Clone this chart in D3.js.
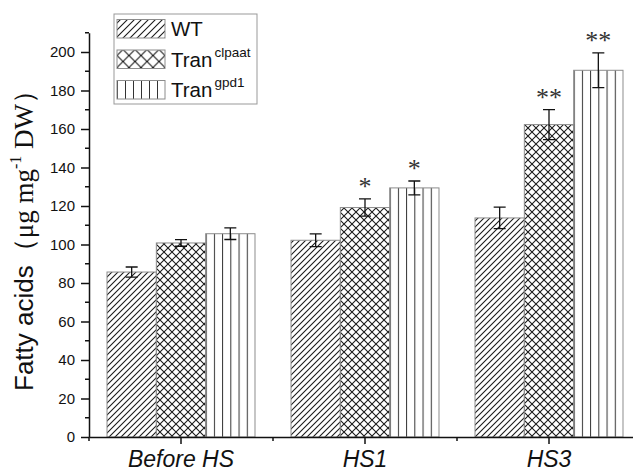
<!DOCTYPE html>
<html>
<head>
<meta charset="utf-8">
<script src="https://cdn.jsdelivr.net/npm/d3@7"></script>
<style>
  body { margin: 0; background: #fff; }
  svg { display: block; }
</style>
</head>
<body>
<div id="chart"></div>
<script>
// chart data
let categories = ["Before HS", "HS1", "HS3"];
let seriesKeys = ["WT", "clpaat", "gpd1"];
let wtMeans = [85.7, 102.2, 113.8];
let wtErr = [2.6, 3.3, 5.6];
let clpaatMeans = [100.8, 119.2, 162.3];
let clpaatErr = [1.7, 4.5, 7.8];
let gpd1Means = [105.6, 129.4, 190.5];
let gpd1Err = [3.0, 3.6, 9.0];
let clpaatStars = ["", "*", "**"];
let gpd1Stars = ["", "*", "**"];
let yTicks = [0, 20, 40, 60, 80, 100, 120, 140, 160, 180, 200];

// svg size
let svgWidth = 633;
let svgHeight = 471;

let svg = d3
  .select("#chart")
  .append("svg")
  .attr("width", svgWidth)
  .attr("height", svgHeight);

// hatch patterns
let defs = svg.append("defs");

defs.append("pattern")
  .attr("id", "diag")
  .attr("patternUnits", "userSpaceOnUse")
  .attr("width", 6)
  .attr("height", 6)
  .append("path")
  .attr("d", "M-1,1 l2,-2 M0,6 l6,-6 M5,7 l2,-2")
  .attr("stroke", "#1a1a1a")
  .attr("stroke-width", 1.1);

defs.append("pattern")
  .attr("id", "cross")
  .attr("patternUnits", "userSpaceOnUse")
  .attr("width", 8)
  .attr("height", 8)
  .append("path")
  .attr("d", "M0,0 L8,8 M8,0 L0,8")
  .attr("stroke", "#1a1a1a")
  .attr("stroke-width", 1.1);

defs.append("pattern")
  .attr("id", "crossBig")
  .attr("patternUnits", "userSpaceOnUse")
  .attr("width", 12)
  .attr("height", 12)
  .attr("x", 117)
  .attr("y", 49)
  .append("path")
  .attr("d", "M0,0 L12,12 M12,0 L0,12")
  .attr("stroke", "#1a1a1a")
  .attr("stroke-width", 1.1);

defs.append("pattern")
  .attr("id", "diagBig")
  .attr("patternUnits", "userSpaceOnUse")
  .attr("width", 7)
  .attr("height", 7)
  .append("path")
  .attr("d", "M-1,1 l2,-2 M0,7 l7,-7 M6,8 l2,-2")
  .attr("stroke", "#1a1a1a")
  .attr("stroke-width", 1.1);

// vertical lines: 6 cells per bar
defs.append("pattern")
  .attr("id", "vert")
  .attr("patternUnits", "objectBoundingBox")
  .attr("width", 1 / 6)
  .attr("height", 1)
  .append("path")
  .attr("d", "M0.5,0 V2000")
  .attr("stroke", "#333")
  .attr("stroke-width", 1);

let fills = { WT: "url(#diag)", clpaat: "url(#cross)", gpd1: "url(#vert)" };

// scales
let x0 = d3.scaleBand().domain(categories).range([89, 641]);
let x1 = d3
  .scaleBand()
  .domain(seriesKeys)
  .range([0, x0.bandwidth()])
  .paddingInner(0)
  .paddingOuter(0.365);
let y = d3.scaleLinear().domain([0, 210]).range([437, 437 - 210 * 1.925]);

// bar records built from the arrays
let barData = [];
categories.forEach(function(cat, i) {
  barData.push({ cat: cat, key: "WT", mean: wtMeans[i], err: wtErr[i], star: "" });
  barData.push({ cat: cat, key: "clpaat", mean: clpaatMeans[i], err: clpaatErr[i], star: clpaatStars[i] });
  barData.push({ cat: cat, key: "gpd1", mean: gpd1Means[i], err: gpd1Err[i], star: gpd1Stars[i] });
});

let barX = d => x0(d.cat) + x1(d.key);
let barMid = d => barX(d) + x1.bandwidth() / 2;

// bars
svg.append("g")
  .selectAll("rect")
  .data(barData)
  .enter()
  .append("rect")
  .attr("x", d => barX(d))
  .attr("y", d => y(d.mean))
  .attr("width", x1.bandwidth())
  .attr("height", d => y(0) - y(d.mean))
  .attr("fill", d => fills[d.key])
  .attr("stroke", "#8c8c8c")
  .attr("stroke-width", 1);

// error bars
let errGroup = svg.append("g")
  .attr("stroke", "#111")
  .attr("stroke-width", 1.3)
  .attr("fill", "none");

errGroup.selectAll("path")
  .data(barData)
  .enter()
  .append("path")
  .attr("d", function(d) {
    let cx = barMid(d);
    let top = y(d.mean + d.err);
    let bot = y(d.mean - d.err);
    return `M${cx - 6},${top} H${cx + 6} M${cx},${top} V${bot} M${cx - 6},${bot} H${cx + 6}`;
  });

// significance stars
svg.append("g")
  .selectAll("text")
  .data(barData.filter(d => d.star))
  .enter()
  .append("text")
  .attr("x", d => barMid(d))
  .attr("y", d => y(d.mean + d.err) - 16 + 12)
  .attr("text-anchor", "middle")
  .attr("font-family", "Liberation Serif, Times New Roman, serif")
  .attr("font-size", 26)
  .attr("fill", "#333")
  .text(d => d.star);

// y axis
let yAxis = d3.axisLeft(y)
  .tickValues(yTicks)
  .tickSize(8)
  .tickPadding(6)
  .tickSizeOuter(0);

let yAxisG = svg.append("g")
  .attr("transform", "translate(89,0)")
  .call(yAxis);

yAxisG.selectAll("text")
  .attr("font-family", "Arial, Liberation Sans, sans-serif")
  .attr("font-size", 15)
  .attr("fill", "#111");

// minor y ticks
svg.append("g")
  .selectAll("line")
  .data(d3.range(10, 220, 20))
  .enter()
  .append("line")
  .attr("x1", 85)
  .attr("x2", 89)
  .attr("y1", d => y(d))
  .attr("y2", d => y(d))
  .attr("stroke", "#111")
  .attr("stroke-width", 1.5);

// x axis
let xAxis = d3.axisBottom(x0).tickSize(7).tickSizeOuter(0).tickFormat("");

let xAxisG = svg.append("g")
  .attr("transform", `translate(0,${y(0)})`)
  .call(xAxis);

// minor x ticks at band edges
svg.append("g")
  .selectAll("line")
  .data(categories)
  .enter()
  .append("line")
  .attr("x1", d => x0(d))
  .attr("x2", d => x0(d))
  .attr("y1", y(0))
  .attr("y2", y(0) + 4)
  .attr("stroke", "#111")
  .attr("stroke-width", 1.5);

svg.selectAll(".domain, .tick line")
  .attr("stroke", "#111")
  .attr("stroke-width", 1.5);

// category labels
svg.append("g")
  .selectAll("text")
  .data(categories)
  .enter()
  .append("text")
  .attr("x", d => x0(d) + x0.bandwidth() / 2)
  .attr("y", 467)
  .attr("text-anchor", "middle")
  .attr("font-family", "Arial, Liberation Sans, sans-serif")
  .attr("font-style", "italic")
  .attr("font-size", 23)
  .attr("fill", "#111")
  .text(d => d);

// y axis label
let yLabel = svg.append("text")
  .attr("transform", "rotate(-90)")
  .attr("x", -234)
  .attr("y", 33)
  .attr("text-anchor", "middle")
  .attr("fill", "#111");

yLabel.append("tspan")
  .attr("font-family", "Arial, Liberation Sans, sans-serif")
  .attr("font-size", 26)
  .text("Fatty acids");
yLabel.append("tspan")
  .attr("font-family", "Liberation Serif, Times New Roman, serif")
  .attr("font-size", 27)
  .text("（μg mg");
yLabel.append("tspan")
  .attr("font-family", "Liberation Serif, Times New Roman, serif")
  .attr("font-size", 16)
  .attr("dy", -12)
  .text("-1");
yLabel.append("tspan")
  .attr("font-family", "Liberation Serif, Times New Roman, serif")
  .attr("font-size", 27)
  .attr("dy", 12)
  .text(" DW）");

// legend
let legend = svg.append("g");

legend.append("rect")
  .attr("x", 114)
  .attr("y", 14)
  .attr("width", 143)
  .attr("height", 90)
  .attr("fill", "#fff")
  .attr("stroke", "#999")
  .attr("stroke-width", 1);

let legendFills = ["url(#diagBig)", "url(#crossBig)", "url(#vert)"];
let legendMain = ["WT", "Tran", "Tran"];
let legendSup = ["", "clpaat", "gpd1"];

seriesKeys.forEach(function(key, i) {
  let row = legend.append("g").attr("transform", `translate(0,${i * 30.5})`);

  row.append("rect")
    .attr("x", 117)
    .attr("y", 19.5)
    .attr("width", 48)
    .attr("height", 18.5)
    .attr("fill", legendFills[i])
    .attr("stroke", "#8c8c8c")
    .attr("stroke-width", 1);

  let t = row.append("text")
    .attr("x", 171)
    .attr("y", 36)
    .attr("font-family", "Arial, Liberation Sans, sans-serif")
    .attr("font-size", 20.5)
    .attr("fill", "#111");

  t.append("tspan").text(legendMain[i]);
  if (legendSup[i]) {
    t.append("tspan")
      .attr("font-size", 13.5)
      .attr("dx", 2)
      .attr("dy", -10)
      .text(legendSup[i]);
  }
});
</script>
</body>
</html>
